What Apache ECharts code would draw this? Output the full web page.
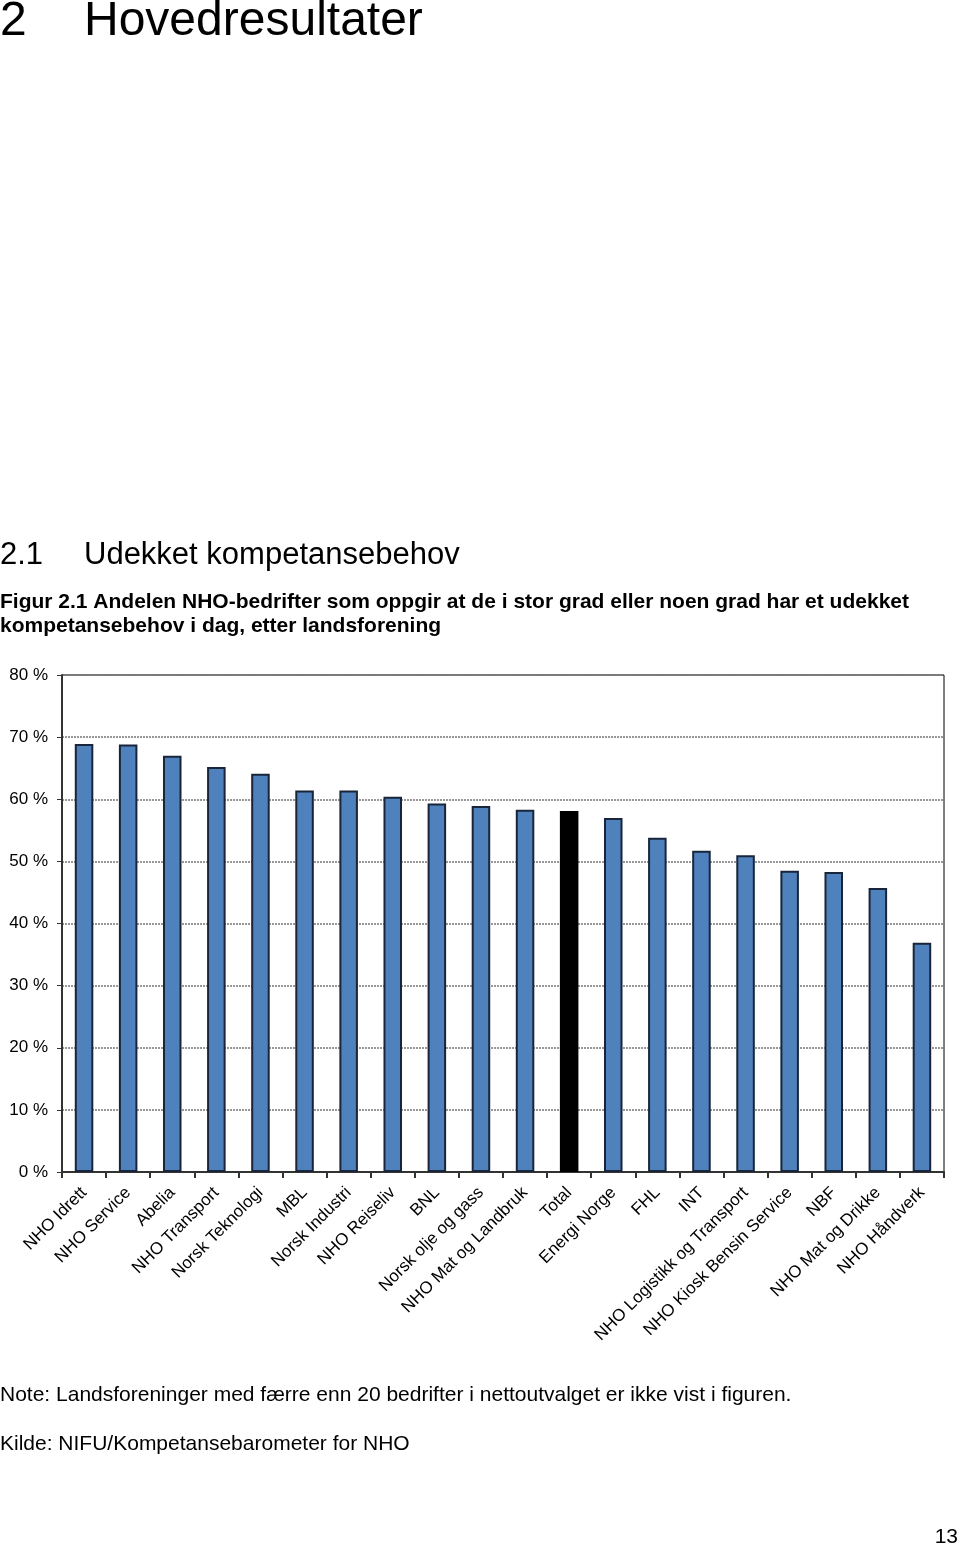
<!DOCTYPE html>
<html>
<head>
<meta charset="utf-8">
<script src="https://cdn.jsdelivr.net/npm/echarts@6/dist/echarts.min.js"></script>
<style>
  html, body { margin: 0; padding: 0; background: #fff; }
  #chart { width: 960px; height: 1546px; }
</style>
</head>
<body>
<div id="chart"></div>
<script>
// landsforeninger, sortert etter andel
const categories = [
  'NHO Idrett', 'NHO Service', 'Abelia', 'NHO Transport', 'Norsk Teknologi',
  'MBL', 'Norsk Industri', 'NHO Reiseliv', 'BNL', 'Norsk olje og gass',
  'NHO Mat og Landbruk', 'Total', 'Energi Norge', 'FHL', 'INT',
  'NHO Logistikk og Transport', 'NHO Kiosk Bensin Service', 'NBF',
  'NHO Mat og Drikke', 'NHO Håndverk'
]
const shareValues = [
  68.9, 68.8, 67.0, 65.2, 64.1,
  61.4, 61.4, 60.4, 59.3, 58.9,
  58.3, 58.1, 57.0, 53.8, 51.7,
  51.0, 48.5, 48.3, 45.7, 36.9
]
const yTicks = [0, 10, 20, 30, 40, 50, 60, 70, 80]

const font = '"Liberation Sans", Arial, sans-serif'
const chart = echarts.init(document.getElementById('chart'))

let option = {
  animation: false,
  textStyle: { fontFamily: font },
  grid: {
    left: 62, right: 16, top: 675, bottom: 374,
    show: true, borderColor: '#000', borderWidth: 1
  },
  xAxis: {
    type: 'category',
    data: categories,
    axisLine: { lineStyle: { color: '#333', width: 2 } },
    axisTick: { show: true, length: 6, lineStyle: { color: '#333', width: 2 } },
    axisLabel: {
      interval: 0, rotate: 45, fontSize: 17, color: '#000',
      fontFamily: font, margin: 18
    }
  },
  yAxis: {
    type: 'value',
    min: yTicks[0],
    max: yTicks[yTicks.length - 1],
    interval: 10,
    axisLine: { show: true, lineStyle: { color: '#333', width: 2 } },
    axisTick: { show: true, length: 5, lineStyle: { color: '#333' } },
    axisLabel: {
      formatter: v => v + ' %', fontSize: 17, color: '#000',
      fontFamily: font, margin: 14
    },
    splitLine: { lineStyle: { color: '#777', type: [2, 1], width: 1.5 } }
  },
  series: [{
    type: 'bar',
    barWidth: '42%',
    data: shareValues.map((v, i) => ({
      value: v,
      itemStyle: categories[i] === 'Total'
        ? { color: '#000', borderColor: '#000' }
        : { color: '#4f81bd', borderColor: '#18253a' }
    })),
    itemStyle: { borderWidth: 2 }
  }],
  graphic: [
    { type: 'text', left: 0, top: -2, style: { text: '2', font: '48px ' + font, fill: '#000' } },
    { type: 'text', left: 84, top: -2, style: { text: 'Hovedresultater', font: '48px ' + font, fill: '#000' } },
    { type: 'text', left: 0, top: 540, style: { text: '2.1', font: '31px ' + font, fill: '#000' } },
    { type: 'text', left: 84, top: 540, style: { text: 'Udekket kompetansebehov', font: '31px ' + font, fill: '#000' } },
    { type: 'text', left: 0, top: 590, style: {
      text: 'Figur 2.1 Andelen NHO-bedrifter som oppgir at de i stor grad eller noen grad har et udekket\nkompetansebehov i dag, etter landsforening',
      font: 'bold 21px ' + font, lineHeight: 24, fill: '#000' } },
    { type: 'text', left: 0, top: 1385, style: {
      text: 'Note: Landsforeninger med færre enn 20 bedrifter i nettoutvalget er ikke vist i figuren.',
      font: '21px ' + font, fill: '#000' } },
    { type: 'text', left: 0, top: 1434, style: { text: 'Kilde: NIFU/Kompetansebarometer for NHO', font: '21px ' + font, fill: '#000' } },
    { type: 'text', right: 2, top: 1527, style: { text: '13', font: '21px ' + font, fill: '#000' } }
  ]
}
chart.setOption(option)
</script>
</body>
</html>
